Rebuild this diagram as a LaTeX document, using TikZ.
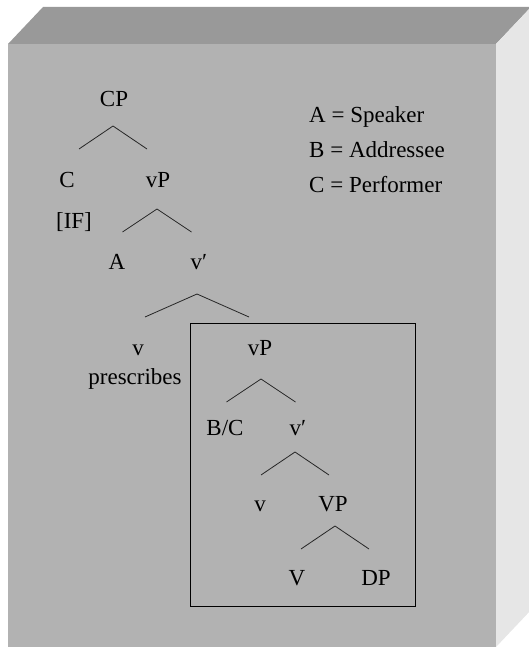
\documentclass[tikz,border=0pt]{standalone}
\usepackage{fontspec}
\setmainfont{Liberation Serif}
\usepackage{tikz}
\usetikzlibrary{calc,positioning}
\definecolor{BoxTop}{HTML}{999999}
\definecolor{BoxFront}{HTML}{B2B2B2}
\definecolor{BoxSide}{HTML}{E6E6E6}
\tikzset{
  lab/.style={anchor=base, inner sep=0pt, font=\fontsize{23}{27}\selectfont},
  key/.style={lab, anchor=base west},
  branch/.style={draw=black!85, line width=0.8pt},
}
% a binary fork hanging from an apex coordinate
\newcommand{\fork}[2]{\draw[branch] ($(#1)+(-#2,23)$) -- (#1) -- ($(#1)+(#2,23)$);}

\begin{document}
\begin{tikzpicture}[x=1pt, y=-1pt]
  \useasboundingbox (0,0) rectangle (529,647);
  % the slab
  \fill[BoxTop] (8,44) -- (43,7) -- (531,7) -- (496,44) -- cycle;
  \fill[BoxSide] (496,44) -- (531,7) -- (531,610) -- (496,647) -- cycle;
  \fill[BoxFront] (8,44) rectangle (496,647);

  % legend
  \node[key] (keyA) at (309,123) {A = Speaker};
  \node[key] (keyB) at (309,158) {B = Addressee};
  \node[key] (keyC) at (309,193) {C = Performer};

  % upper tree
  \node[lab] (CP) at (114,107) {CP};
  \coordinate (cpFork) at (113,126);
  \fork{cpFork}{34}
  \node[lab] (C) at (67,187) {C};
  \node[lab] (IF) at (74,228) {[IF]};
  \node[lab] (vP) at (158,187) {vP};
  \coordinate (vpFork) at (157,209);
  \fork{vpFork}{34.5}
  \node[lab] (A) at (117,269) {A};
  \node[lab] (vbar) at (199,269) {v′};
  \coordinate (vbarFork) at (197,294);
  \draw[branch] ($(vbarFork)+(-52,23)$) -- (vbarFork) -- ($(vbarFork)+(52,23)$);
  \node[lab] (v) at (138,355) {v};
  \node[lab] (verb) at (135,384) {prescribes};

  % embedded vP
  \draw[line width=0.8pt] (190,323) rectangle (415,606);
  \node[lab] (vP2) at (260,355) {vP};
  \coordinate (vp2Fork) at (261,379);
  \fork{vp2Fork}{34.5}
  \node[lab] (BC) at (225,435) {B/C};
  \node[lab] (vbar2) at (298,435) {v′};
  \coordinate (vbar2Fork) at (295,452);
  \fork{vbar2Fork}{34}
  \node[lab] (v2) at (260,511) {v};
  \node[lab] (VP) at (333,511) {VP};
  \coordinate (VPFork) at (335,526);
  \fork{VPFork}{34}
  \node[lab] (V) at (297,585) {V};
  \node[lab] (DP) at (376,585) {DP};
\end{tikzpicture}
\end{document}
